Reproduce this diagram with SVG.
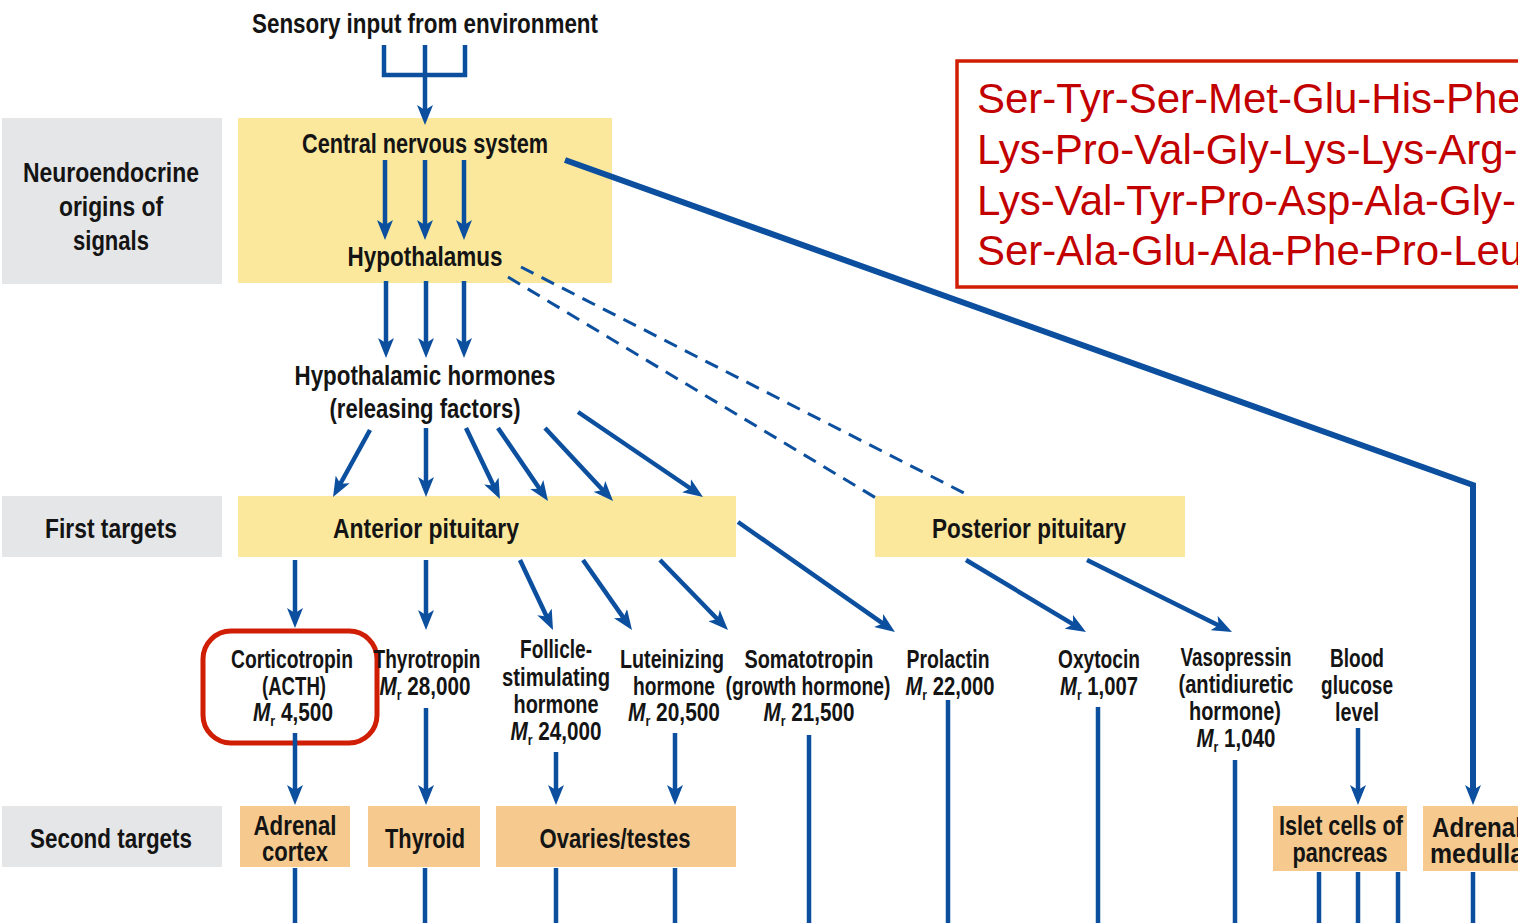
<svg xmlns="http://www.w3.org/2000/svg" width="1518" height="923" viewBox="0 0 1518 923">
<defs>
<style>
.t{font-family:"Liberation Sans",Arial,sans-serif;font-weight:bold;fill:#141414;text-anchor:middle;font-size:25px}
.h{font-size:27px}
.gray{fill:#e5e6e7}
.yel{fill:#fbe89c}
.org{fill:#f6ca8e}
.ln{stroke:#0b4f9e;stroke-width:4.5;fill:none}
.ar{stroke:#0b4f9e;stroke-width:4.5;fill:none;marker-end:url(#ah)}
.dash{stroke:#0b4f9e;stroke-width:3;fill:none;stroke-dasharray:14 9}
.seq{font-family:"Liberation Sans",Arial,sans-serif;font-size:42px;fill:#c20000}
.i{font-style:italic}
</style>
<marker id="ah" markerUnits="userSpaceOnUse" viewBox="0 0 20 16" refX="12" refY="8" markerWidth="20" markerHeight="16" orient="auto">
<path d="M0,0 L20,8 L0,16 L5,8 z" fill="#0b4f9e"/>
</marker>
</defs>
<rect width="1518" height="923" fill="#ffffff"/>

<g id="sensory"><text class="t h" x="425" y="33" textLength="346" lengthAdjust="spacingAndGlyphs">Sensory input from environment</text></g>

<g id="label-neuro"><rect class="gray" x="2" y="118" width="220" height="166"/>
<text class="t h" x="111" y="182" textLength="176" lengthAdjust="spacingAndGlyphs">Neuroendocrine</text>
<text class="t h" x="111" y="216" textLength="104" lengthAdjust="spacingAndGlyphs">origins of</text>
<text class="t h" x="111" y="250" textLength="76" lengthAdjust="spacingAndGlyphs">signals</text></g>

<g id="cns-box"><rect class="yel" x="238" y="118" width="374" height="165"/>
<text class="t h" x="425" y="153" textLength="246" lengthAdjust="spacingAndGlyphs">Central nervous system</text></g>
<g id="hypothalamus"><text class="t h" x="425" y="266" textLength="155" lengthAdjust="spacingAndGlyphs">Hypothalamus</text></g>

<g id="hyp-hormones"><text class="t h" x="425" y="385" textLength="261" lengthAdjust="spacingAndGlyphs">Hypothalamic hormones</text>
<text class="t h" x="425" y="418" textLength="191" lengthAdjust="spacingAndGlyphs">(releasing factors)</text></g>

<g id="seq-box"><rect x="957" y="61" width="600" height="226" fill="#ffffff" stroke="#d01e04" stroke-width="3.5"/>
<text class="seq" x="977" y="113">Ser-Tyr-Ser-Met-Glu-His-Phe</text>
<text class="seq" x="977" y="164">Lys-Pro-Val-Gly-Lys-Lys-Arg-</text>
<text class="seq" x="977" y="215">Lys-Val-Tyr-Pro-Asp-Ala-Gly-</text>
<text class="seq" x="977" y="265">Ser-Ala-Glu-Ala-Phe-Pro-Leu</text></g>

<g id="label-first"><rect class="gray" x="2" y="496" width="220" height="61"/>
<text class="t h" x="111" y="538" textLength="132" lengthAdjust="spacingAndGlyphs">First targets</text></g>
<g id="anterior"><rect class="yel" x="238" y="496" width="498" height="61"/>
<text class="t h" x="426" y="538" textLength="186" lengthAdjust="spacingAndGlyphs">Anterior pituitary</text></g>
<g id="posterior"><rect class="yel" x="875" y="496" width="310" height="61"/>
<text class="t h" x="1029" y="538" textLength="194" lengthAdjust="spacingAndGlyphs">Posterior pituitary</text></g>

<g id="corticotropin"><rect x="203" y="631" width="174" height="112" rx="28" fill="none" stroke="#d01e04" stroke-width="5"/>
<text class="t" x="292" y="668" textLength="122" lengthAdjust="spacingAndGlyphs">Corticotropin</text>
<text class="t" x="294" y="695" textLength="64" lengthAdjust="spacingAndGlyphs">(ACTH)</text>
<text class="t" x="293" y="721" textLength="80" lengthAdjust="spacingAndGlyphs"><tspan class="i">M</tspan><tspan font-size="15" dy="5">r</tspan><tspan dy="-5"> 4,500</tspan></text></g>

<g id="thyrotropin"><text class="t" x="427" y="668" textLength="107" lengthAdjust="spacingAndGlyphs">Thyrotropin</text>
<text class="t" x="425" y="695" textLength="91" lengthAdjust="spacingAndGlyphs"><tspan class="i">M</tspan><tspan font-size="15" dy="5">r</tspan><tspan dy="-5"> 28,000</tspan></text></g>

<g id="fsh"><text class="t" x="556" y="658" textLength="72" lengthAdjust="spacingAndGlyphs">Follicle-</text>
<text class="t" x="556" y="686" textLength="108" lengthAdjust="spacingAndGlyphs">stimulating</text>
<text class="t" x="556" y="713" textLength="85" lengthAdjust="spacingAndGlyphs">hormone</text>
<text class="t" x="556" y="740" textLength="91" lengthAdjust="spacingAndGlyphs"><tspan class="i">M</tspan><tspan font-size="15" dy="5">r</tspan><tspan dy="-5"> 24,000</tspan></text></g>

<g id="lh"><text class="t" x="672" y="668" textLength="104" lengthAdjust="spacingAndGlyphs">Luteinizing</text>
<text class="t" x="674" y="695" textLength="82" lengthAdjust="spacingAndGlyphs">hormone</text>
<text class="t" x="674" y="721" textLength="92" lengthAdjust="spacingAndGlyphs"><tspan class="i">M</tspan><tspan font-size="15" dy="5">r</tspan><tspan dy="-5"> 20,500</tspan></text></g>

<g id="somatotropin"><text class="t" x="809" y="668" textLength="129" lengthAdjust="spacingAndGlyphs">Somatotropin</text>
<text class="t" x="808" y="695" textLength="165" lengthAdjust="spacingAndGlyphs">(growth hormone)</text>
<text class="t" x="809" y="721" textLength="91" lengthAdjust="spacingAndGlyphs"><tspan class="i">M</tspan><tspan font-size="15" dy="5">r</tspan><tspan dy="-5"> 21,500</tspan></text></g>

<g id="prolactin"><text class="t" x="948" y="668" textLength="83" lengthAdjust="spacingAndGlyphs">Prolactin</text>
<text class="t" x="950" y="695" textLength="89" lengthAdjust="spacingAndGlyphs"><tspan class="i">M</tspan><tspan font-size="15" dy="5">r</tspan><tspan dy="-5"> 22,000</tspan></text></g>

<g id="oxytocin"><text class="t" x="1099" y="668" textLength="82" lengthAdjust="spacingAndGlyphs">Oxytocin</text>
<text class="t" x="1099" y="695" textLength="78" lengthAdjust="spacingAndGlyphs"><tspan class="i">M</tspan><tspan font-size="15" dy="5">r</tspan><tspan dy="-5"> 1,007</tspan></text></g>

<g id="vasopressin"><text class="t" x="1236" y="666" textLength="111" lengthAdjust="spacingAndGlyphs">Vasopressin</text>
<text class="t" x="1236" y="693" textLength="115" lengthAdjust="spacingAndGlyphs">(antidiuretic</text>
<text class="t" x="1235" y="720" textLength="92" lengthAdjust="spacingAndGlyphs">hormone)</text>
<text class="t" x="1236" y="747" textLength="79" lengthAdjust="spacingAndGlyphs"><tspan class="i">M</tspan><tspan font-size="15" dy="5">r</tspan><tspan dy="-5"> 1,040</tspan></text></g>

<g id="glucose"><text class="t" x="1357" y="667" textLength="54" lengthAdjust="spacingAndGlyphs">Blood</text>
<text class="t" x="1357" y="694" textLength="72" lengthAdjust="spacingAndGlyphs">glucose</text>
<text class="t" x="1357" y="721" textLength="44" lengthAdjust="spacingAndGlyphs">level</text></g>

<g id="label-second"><rect class="gray" x="2" y="806" width="220" height="61"/>
<text class="t h" x="111" y="848" textLength="162" lengthAdjust="spacingAndGlyphs">Second targets</text></g>
<g id="adrenal-cortex"><rect class="org" x="240" y="806" width="110" height="61"/>
<text class="t h" x="295" y="835" textLength="83" lengthAdjust="spacingAndGlyphs">Adrenal</text>
<text class="t h" x="295" y="861" textLength="66" lengthAdjust="spacingAndGlyphs">cortex</text></g>
<g id="thyroid"><rect class="org" x="368" y="806" width="112" height="61"/>
<text class="t h" x="425" y="848" textLength="80" lengthAdjust="spacingAndGlyphs">Thyroid</text></g>
<g id="ovaries"><rect class="org" x="496" y="806" width="240" height="61"/>
<text class="t h" x="615" y="848" textLength="151" lengthAdjust="spacingAndGlyphs">Ovaries/testes</text></g>
<g id="islet"><rect class="org" x="1273" y="806" width="134" height="65"/>
<text class="t h" x="1341" y="835" textLength="124" lengthAdjust="spacingAndGlyphs">Islet cells of</text>
<text class="t h" x="1340" y="862" textLength="95" lengthAdjust="spacingAndGlyphs">pancreas</text></g>
<g id="adrenal-medulla"><rect class="org" x="1423" y="806" width="110" height="65"/>
<text class="t h" x="1477" y="837" textLength="90" lengthAdjust="spacingAndGlyphs">Adrenal</text>
<text class="t h" x="1477" y="863" textLength="94" lengthAdjust="spacingAndGlyphs">medulla</text></g>

<g id="connectors">
<path class="ln" d="M384,45 V75 H465 V45"/>
<path class="ar" d="M425,45 V117"/>
<path class="ar" d="M385,160 V232"/>
<path class="ar" d="M425,160 V232"/>
<path class="ar" d="M464,160 V232"/>
<path class="ar" d="M386,281 V350"/>
<path class="ar" d="M426,281 V350"/>
<path class="ar" d="M464,281 V350"/>
<path class="ar" d="M370,430 L336.9,490"/>
<path class="ar" d="M426,428 V489"/>
<path class="ar" d="M466,428 L496.5,491.8"/>
<path class="ar" d="M498,428 L543.5,494.4"/>
<path class="ar" d="M545,428 L607.6,495.2"/>
<path class="ar" d="M578,412 L696.4,492.5"/>
<path class="dash" d="M521,267 L968,495"/>
<path class="dash" d="M508,277 L876,498"/>
<path class="ar" style="stroke-width:6" d="M565,160 L1473,485 V797"/>
<path class="ar" d="M295,560 V620"/>
<path class="ar" d="M426,560 V622"/>
<path class="ar" d="M520,560 L549.6,622.8"/>
<path class="ar" d="M583,560 L627.4,623.4"/>
<path class="ar" d="M660,560 L722.4,624.3"/>
<path class="ar" d="M738,522 L888.4,627.4"/>
<path class="ar" d="M966,560 L1079.1,627.9"/>
<path class="ar" d="M1087,560 L1224.8,628.4"/>
<path class="ar" d="M295,733 V797"/>
<path class="ar" d="M426,708 V797"/>
<path class="ar" d="M556,752 V797"/>
<path class="ar" d="M675,733 V797"/>
<path class="ar" d="M1358,728 V797"/>
<path class="ln" d="M809,735 V923"/>
<path class="ln" d="M948,700 V923"/>
<path class="ln" d="M1098,707 V923"/>
<path class="ln" d="M1235,760 V923"/>
<path class="ln" d="M295,868 V923"/>
<path class="ln" d="M425,868 V923"/>
<path class="ln" d="M556,868 V923"/>
<path class="ln" d="M675,868 V923"/>
<path class="ln" d="M1319,872 V923"/>
<path class="ln" d="M1358,872 V923"/>
<path class="ln" d="M1398,872 V923"/>
<path class="ln" d="M1473,872 V923"/>
</g>
</svg>
